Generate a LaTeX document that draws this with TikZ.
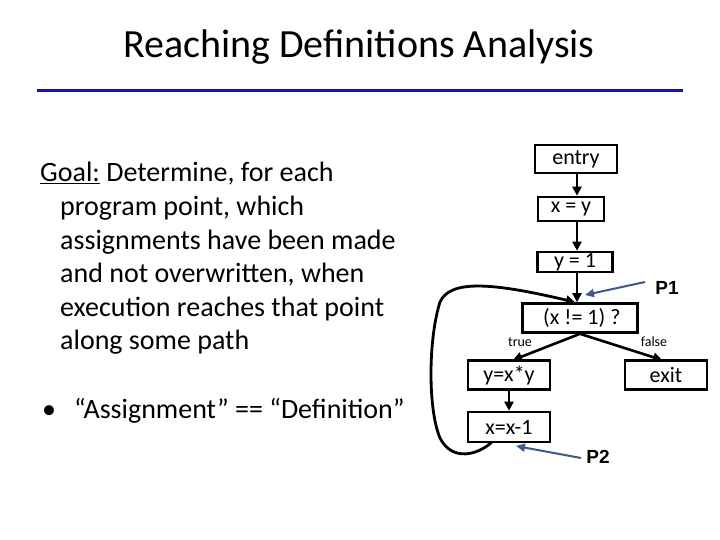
\documentclass[tikz,border=0pt]{standalone}
\usepackage{fontspec}
\setmainfont{Carlito}
\newfontfamily\ptfont{Liberation Sans}
\usetikzlibrary{arrows.meta}
\definecolor{rulecol}{RGB}{20,20,170}
\definecolor{ptrcol}{RGB}{60,90,135}

\begin{document}
\begin{tikzpicture}[
    x=1pt, y=-1pt,
    >=Triangle,
    blk/.style  = {draw, line width=2.6pt, inner sep=1pt,
                   font=\fontsize{22}{24}\selectfont},
    flow/.style = {->, line width=2.6pt,
                   >={Triangle[length=9pt,width=9pt]}},
    ptr/.style  = {->, draw=ptrcol, fill=ptrcol, line width=2pt,
                   >={Triangle[length=9pt,width=8pt]}},
    lbl/.style  = {font=\fontsize{14}{16}\selectfont},
    pname/.style= {font=\ptfont\bfseries\fontsize{19}{21}\selectfont},
    txt/.style  = {font=\fontsize{28}{33}\selectfont, anchor=base west,
                   inner sep=0pt},
  ]
  \useasboundingbox (0,0) rectangle (720,540);
  % title
  \node[font=\fontsize{40}{44}\selectfont] (title) at (359,47)
    {Reaching Definitions Analysis};
  \draw[rulecol, line width=3pt] (37,91) -- (683,91);
  % left text
  \node[txt] (g1) at (40,182)    {\underline{Goal:} Determine, for each};
  \node[txt] (g2) at (60,215.5)  {program point, which};
  \node[txt] (g3) at (60,249)    {assignments have been made};
  \node[txt] (g4) at (60,282.5)  {and not overwritten, when};
  \node[txt] (g5) at (60,316)    {execution reaches that point};
  \node[txt] (g6) at (60,349.5)  {along some path};
  \node[txt] (bul) at (42,418)   {\textbullet};
  \node[txt] (def) at (74,418)   {“Assignment” == “Definition”};
  % flow graph blocks
  \node[blk, minimum width=82pt, minimum height=28pt] (entry) at (576,159) {entry};
  \node[blk, minimum width=66pt, minimum height=24pt] (xy)    at (571,209) {x = y};
  \node[blk, minimum width=75pt, minimum height=20pt] (y1)    at (575,262) {y = 1};
  \node[blk, minimum width=115pt, minimum height=29pt] (cond) at (580,318) {\,(x != 1) ?};
  \node[blk, minimum width=82pt, minimum height=29pt] (yxy)   at (509,375) {y=x*y};
  \node[blk, minimum width=82pt, minimum height=29pt] (exit)  at (666,375) {exit};
  \node[blk, minimum width=82pt, minimum height=30pt] (xm1)   at (509,427) {x=x-1};
  % edges
  \draw[flow] (entry.south -| 577,0) -- (xy.north -| 577,0);
  \draw[flow] (xy.south -| 577,0) -- (y1.north -| 577,0);
  \draw[flow] (y1.south -| 577,0) -- (cond.north -| 577,0);
  \draw[flow] (cond.south) -- (513,360);
  \draw[flow] (cond.south) -- (662,360);
  \draw[flow] (yxy) -- (xm1);
  \node[lbl] (tl) at (520,342) {true};
  \node[lbl] (fl) at (654,342) {false};
  % back edge
  \coordinate (bk) at (492,442);
  \draw[flow, line width=2.8pt] (bk) .. controls (478,455) and (452,462) .. (440,438)
    .. controls (428,410) and (428,340) .. (440,302)
    .. controls (450,280) and (490,282) .. (cond.north -| 575,0);
  % program points
  \node[pname] (p1) at (667,288) {P1};
  \node[pname] (p2) at (598,457) {P2};
  \draw[ptr] (645,282) -- (585,295);
  \draw[ptr] (581,458) -- (516,446);
\end{tikzpicture}
\end{document}
